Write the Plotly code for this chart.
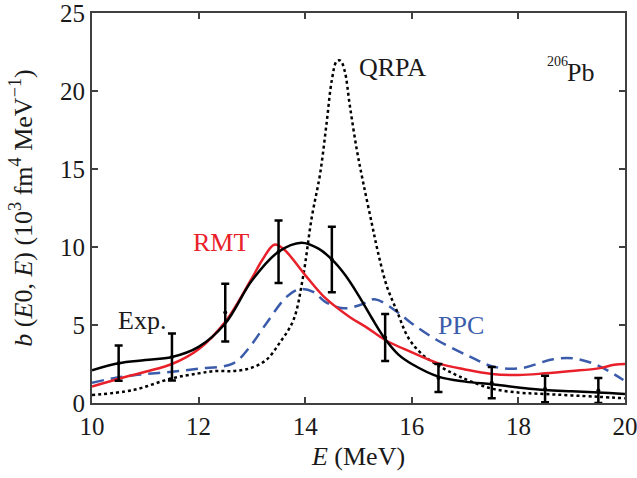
import plotly.graph_objects as go

# Experimental data
E_exp = [10.5, 11.5, 12.5, 13.5, 14.5, 15.5, 16.5, 17.5, 18.5, 19.5]
b_exp = [2.55, 2.95, 5.8, 9.7, 9.2, 4.2, 1.6, 1.3, 0.9, 0.8]
err_exp = [1.13, 1.5, 1.85, 2.0, 2.1, 1.5, 0.9, 1.0, 0.85, 0.8]

# Fit to experiment (black solid)
E_fit = [10, 10.5, 11, 11.5, 12, 12.5, 13, 13.5, 13.93, 14.25, 14.5, 14.75, 15.0, 15.25, 15.5,
         15.75, 16.0, 16.5, 17.0, 17.5, 18, 18.5, 19, 19.5, 20]
b_fit = [2.1, 2.55, 2.75, 2.95, 3.6, 5.1, 7.85, 9.7, 10.28, 9.9, 9.2, 8.2, 6.9, 5.45, 4.1,
         3.1, 2.5, 1.69, 1.37, 1.2, 1.0, 0.83, 0.75, 0.68, 0.58]

# RMT (red)
E_rmt = [10, 10.5, 11, 11.5, 12, 12.5, 13, 13.2, 13.42, 13.6, 14.0, 14.37, 14.84, 15.15, 15.5,
         15.97, 16.5, 17, 17.5, 18, 18.5, 19, 19.5, 19.8, 20]
b_rmt = [1.05, 1.55, 2.0, 2.5, 3.45, 5.2, 8.0, 9.2, 10.15, 9.85, 8.2, 6.75, 5.5, 4.85, 4.04,
         3.29, 2.54, 2.15, 1.86, 1.79, 1.9, 2.05, 2.22, 2.45, 2.5]

# PPC (blue dashed)
E_ppc = [10, 10.5, 11, 11.5, 12, 12.65, 12.96, 13.27, 13.65, 13.9, 14.15, 14.37, 14.71, 15.03,
         15.3, 15.72, 16.0, 16.47, 17.09, 17.53, 18.03, 18.65, 19.03, 19.47, 19.97]
b_ppc = [1.3, 1.65, 1.85, 2.0, 2.2, 2.54, 3.6, 5.1, 6.8, 7.3, 7.13, 6.5, 6.07, 6.28,
         6.65, 5.85, 5.1, 4.04, 2.97, 2.33, 2.22, 2.8, 2.86, 2.44, 1.47]

# QRPA (black dotted)
E_qrpa = [10, 10.77, 11.5, 12.0, 12.33, 12.65, 12.96, 13.27, 13.53, 13.78, 13.96, 14.12, 14.28,
          14.4, 14.5, 14.59, 14.66, 14.74, 14.84, 14.97, 15.09, 15.25, 15.37, 15.53, 15.72,
          15.94, 16.2, 16.48, 16.9, 17.48, 18.03, 18.48, 19.48, 20.0]
b_qrpa = [0.51, 0.83, 1.58, 1.9, 2.05, 2.05, 2.22, 2.76, 3.9, 5.32, 8.1, 11.84, 14.7,
          17.9, 20.7, 21.9, 21.95, 21.3, 19.0, 16.2, 14.1, 11.5, 9.6, 7.5, 5.9,
          4.15, 3.1, 2.44, 1.69, 0.94, 0.66, 0.58, 0.4, 0.3]

FONT = "Liberation Serif, Times New Roman, serif"
RED = "#e8202a"
BLUE = "#3b5bab"
TXT = "#1a1a1a"

fig = go.Figure()
fig.add_trace(go.Scatter(x=E_ppc, y=b_ppc, mode="lines", line=dict(color=BLUE, width=2.5, dash="12px,7px", shape="spline"), showlegend=False))
fig.add_trace(go.Scatter(x=E_qrpa, y=b_qrpa, mode="lines", line=dict(color="black", width=2.5, dash="dot", shape="spline"), showlegend=False))
fig.add_trace(go.Scatter(x=E_rmt, y=b_rmt, mode="lines", line=dict(color=RED, width=2.5, shape="spline"), showlegend=False))
fig.add_trace(go.Scatter(x=E_fit, y=b_fit, mode="lines", line=dict(color="black", width=2.5, shape="spline"), showlegend=False))
fig.add_trace(go.Scatter(x=E_exp, y=b_exp, mode="markers", marker=dict(color="black", size=4),
                         error_y=dict(type="data", array=err_exp, color="black", thickness=2.5, width=4),
                         showlegend=False))

annots = [
    dict(x=14.98, y=21.5, text="QRPA", color=TXT, size=26),
    dict(x=18.5, y=21.9, text="206", color=TXT, size=14),
    dict(x=18.87, y=21.2, text="Pb", color=TXT, size=26),
    dict(x=11.85, y=10.3, text="RMT", color=RED, size=26),
    dict(x=10.45, y=5.3, text="Exp.", color=TXT, size=26),
    dict(x=16.45, y=5.0, text="PPC", color=BLUE, size=26),
]
for a in annots:
    fig.add_annotation(x=a["x"], y=a["y"], text=a["text"], showarrow=False, xanchor="left", yanchor="middle",
                       font=dict(family=FONT, size=a["size"], color=a["color"]))

axis_common = dict(showline=True, linecolor="#404040", linewidth=2, mirror="ticks", ticks="inside",
                   ticklen=6, tickwidth=2, tickcolor="#404040", showgrid=False, zeroline=False,
                   automargin=False, ticklabeloverflow="allow",
                   tickfont=dict(family=FONT, size=25, color=TXT))

fig.update_xaxes(range=[10, 20], tickvals=[10, 12, 14, 16, 18, 20], **axis_common,
                 title=dict(text="<i>E</i> (MeV)", font=dict(family=FONT, size=26, color=TXT), standoff=8))
fig.update_yaxes(range=[0, 25], tickvals=[0, 5, 10, 15, 20, 25], **axis_common,
                 title=dict(text="<i>b</i> (<i>E</i>0, <i>E</i>) (10<sup>3</sup> fm<sup>4</sup> MeV<sup>−1</sup>)",
                            font=dict(family=FONT, size=26, color=TXT), standoff=20))

fig.update_layout(width=637, height=478, margin=dict(l=92, r=12, t=13, b=75),
                  plot_bgcolor="white", paper_bgcolor="white")

fig.write_html("out.html", config={"displayModeBar": False},
               post_script="document.body.style.margin='0px';document.body.style.overflow='hidden';")
